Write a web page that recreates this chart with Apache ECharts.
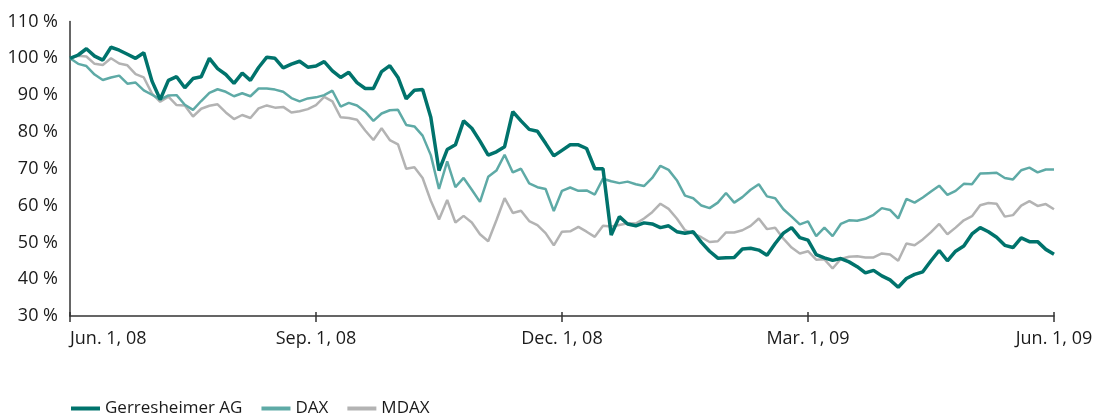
<!DOCTYPE html>
<html>
<head>
<meta charset="utf-8">
<script src="https://cdn.jsdelivr.net/npm/echarts@6/dist/echarts.min.js"></script>
<style>
  html, body { margin: 0; padding: 0; background: #ffffff; }
  #chart { width: 1098px; height: 414px; }
</style>
</head>
<body>
<div id="chart"></div>
<script>
// Tick labels on the time axis (evenly spaced quarters)
const tickLabels = ['Jun. 1, 08', 'Sep. 1, 08', 'Dec. 1, 08', 'Mar. 1, 09', 'Jun. 1, 09'];
// Samples per quarter (readings taken at regular steps along the time axis)
const samplesPerQuarter = 30;

const seriesNames = ['Gerresheimer AG', 'DAX', 'MDAX'];

// Indexed performance, % (Jun. 1, 08 = 100 %)
const gerresheimer = [
  100, 100.9, 102.6, 100.6, 99.5, 103, 102.2, 101.1, 100, 101.5, 93.8, 88.8, 94, 95, 92, 94.5, 95, 100, 97.2, 95.6, 93.2, 96, 94, 97.5,
  100.3, 100, 97.4, 98.4, 99.2, 97.6, 97.9, 99.1, 96.6, 94.8, 96.2, 93.4, 91.8, 91.8, 96.4, 98, 94.8, 89, 91.3, 91.5, 84, 69.5, 75.2, 76.5,
  83, 81, 77.5, 73.7, 74.6, 76, 85.5, 83, 80.7, 80.2, 76.9, 73.5, 75, 76.5, 76.5, 75.5, 70, 70, 52, 57, 55, 54.5, 55.3, 55,
  54, 54.5, 52.9, 52.5, 52.9, 50, 47.6, 45.7, 45.8, 45.9, 48.2, 48.4, 47.9, 46.5, 49.7, 52.5, 54, 51.3, 50.6, 46.7, 45.8, 45.1, 45.6, 44.7,
  43.4, 41.7, 42.4, 40.9, 39.8, 37.8, 40.2, 41.3, 42, 45, 47.8, 45, 47.6, 49, 52.3, 54, 52.9, 51.4, 49.2, 48.6, 51.2, 50.2, 50.2, 48.1, 46.8
];
const dax = [
  100, 98.5, 97.9, 95.6, 94.1, 94.8, 95.3, 93.1, 93.4, 91.3, 90.1, 88.8, 89.9, 90, 87.4, 86, 88.4, 90.6, 91.6, 90.9, 89.7, 90.5, 89.7, 91.8,
  91.8, 91.5, 90.9, 89.2, 88.3, 89.1, 89.4, 90, 91.2, 86.9, 87.9, 87.2, 85.5, 83, 85, 85.9, 86, 81.9, 81.5, 79, 73.7, 64.5, 72, 65,
  67.5, 64.3, 61, 67.8, 69.5, 73.8, 69, 70, 66, 65, 64.5, 58.5, 64, 64.9, 64, 64.1, 63, 67.3, 66.6, 66.1, 66.5, 65.8, 65.3, 67.5,
  70.8, 69.7, 66.9, 62.7, 62, 60, 59.3, 60.8, 63.4, 60.8, 62.3, 64.3, 65.8, 62.5, 62, 59, 57, 54.9, 55.7, 51.7, 54, 51.7, 55, 56,
  55.9, 56.4, 57.5, 59.3, 58.8, 56.5, 61.8, 60.8, 62.2, 63.8, 65.4, 62.9, 64, 65.9, 65.8, 68.7, 68.8, 68.9, 67.5, 67.1, 69.6, 70.3, 69, 69.8, 69.8
];
const mdax = [
  100, 100.7, 100.5, 98.5, 98.2, 100, 98.6, 98.1, 95.7, 94.8, 90.4, 88.2, 89.6, 87.3, 87.2, 84.2, 86.3, 87.1, 87.5, 85.3, 83.5, 84.6, 83.8, 86.4,
  87.2, 86.6, 86.8, 85.3, 85.6, 86.2, 87.3, 89.5, 88.3, 84, 83.8, 83.3, 80.4, 77.8, 81, 77.8, 76.6, 70, 70.4, 67.5, 61.3, 56.2, 61.5, 55.4,
  57.2, 55.4, 52.2, 50.3, 56, 62, 58, 58.6, 55.8, 54.7, 52.5, 49.2, 52.9, 53, 54.2, 52.9, 51.5, 54.5, 54.3, 54.7, 55.2, 55.1, 56.5, 58.2,
  60.5, 59.1, 56.5, 53.3, 52.4, 51.4, 50.1, 50.3, 52.7, 52.7, 53.3, 54.5, 56.5, 53.6, 54, 51, 48.6, 47, 47.6, 45.3, 45.4, 42.9, 45.5, 46.1,
  46.2, 45.9, 45.9, 47, 46.7, 45, 49.7, 49.2, 50.8, 52.8, 55, 52.2, 54, 56, 57.1, 60.1, 60.7, 60.5, 57, 57.4, 60, 61.2, 59.9, 60.4, 59
];

const colors = { g: '#00736c', dax: '#5eaaa6', mdax: '#b3b3b3' };
const FONT = '"Open Sans", "Noto Sans", sans-serif';
const xMax = samplesPerQuarter * (tickLabels.length - 1);
const toPairs = arr => arr.map((v, i) => [i, v]);

const chart = echarts.init(document.getElementById('chart'), null, { renderer: 'canvas' });
chart.setOption({
  animation: false,
  backgroundColor: '#ffffff',
  textStyle: { fontFamily: FONT },
  grid: { left: 70, right: 44, top: 21.5, bottom: 98 },
  legend: {
    data: seriesNames,
    left: 66,
    top: 395,
    icon: 'rect',
    itemWidth: 29,
    itemHeight: 4,
    itemGap: 19,
    textStyle: { fontSize: 17, color: '#1a1a1a', fontFamily: FONT }
  },
  xAxis: [
    {
      type: 'value', min: 0, max: xMax, interval: samplesPerQuarter,
      axisLine: { show: true, lineStyle: { color: '#333333', width: 1.5 } },
      axisTick: { show: true, length: 6, lineStyle: { color: '#333333', width: 1.5 } },
      splitLine: { show: false },
      axisLabel: {
        show: true, margin: 14, fontSize: 18, color: '#1a1a1a', fontFamily: FONT,
        alignMinLabel: 'left',
        formatter: v => tickLabels[Math.round(v / samplesPerQuarter)] || ''
      }
    },
    {
      type: 'value', min: 0, max: xMax, interval: samplesPerQuarter, position: 'bottom',
      axisLine: { show: false },
      axisTick: { show: true, inside: true, length: 4, lineStyle: { color: '#333333', width: 1.5 } },
      splitLine: { show: false },
      axisLabel: { show: false }
    }
  ],
  yAxis: {
    type: 'value', min: 30, max: 110, interval: 10,
    axisLine: { show: true, lineStyle: { color: '#333333', width: 1.5 } },
    axisTick: { show: false },
    splitLine: { show: false },
    axisLabel: { margin: 12, fontSize: 18, color: '#1a1a1a', fontFamily: FONT, formatter: '{value} %' }
  },
  series: [
    {
      name: 'MDAX', type: 'line', data: toPairs(mdax), xAxisIndex: 0, z: 2,
      symbol: 'none', color: colors.mdax,
      lineStyle: { color: colors.mdax, width: 2.5 }
    },
    {
      name: 'DAX', type: 'line', data: toPairs(dax), xAxisIndex: 0, z: 3,
      symbol: 'none', color: colors.dax,
      lineStyle: { color: colors.dax, width: 2.5 }
    },
    {
      name: 'Gerresheimer AG', type: 'line', data: toPairs(gerresheimer), xAxisIndex: 0, z: 4,
      symbol: 'none', color: colors.g,
      lineStyle: { color: colors.g, width: 3.5 }
    }
  ]
});
</script>
</body>
</html>
